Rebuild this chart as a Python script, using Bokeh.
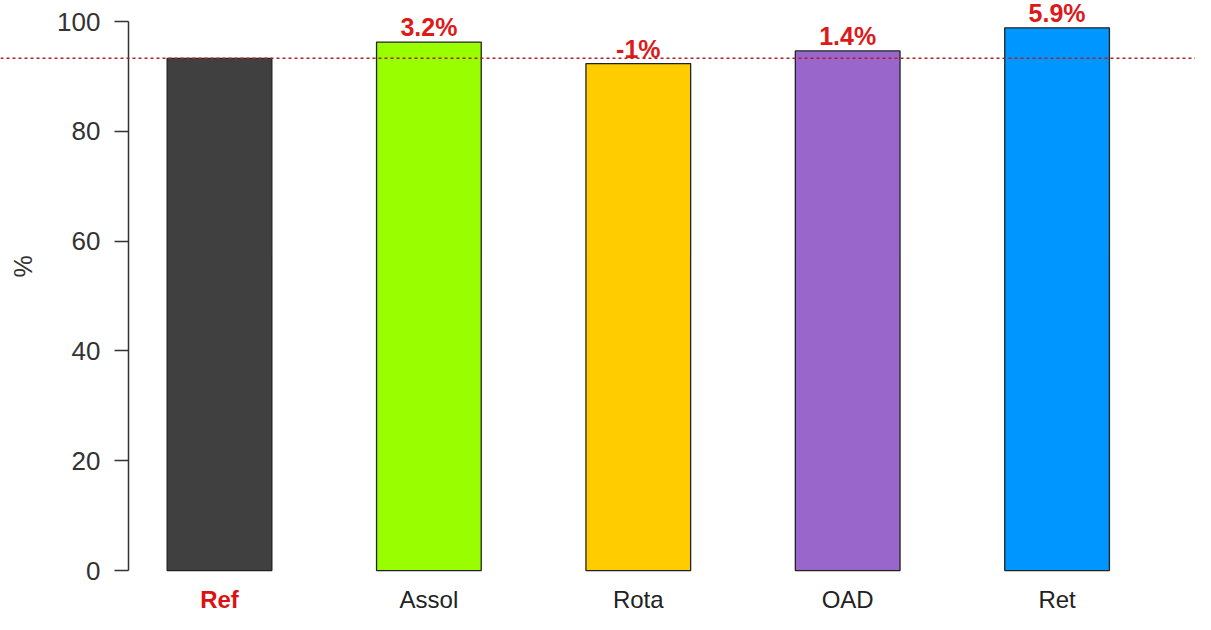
import math
from bokeh.plotting import figure
from bokeh.models import (ColumnDataSource, Range1d, LinearAxis, FixedTicker, Span)
from bokeh.core.properties import value
from bokeh.embed import file_html
from bokeh.resources import INLINE

categories = ["Ref", "Assol", "Rota", "OAD", "Ret"]
values = [93.3, 96.25, 92.35, 94.65, 98.85]
changes = ["", "3.2%", "-1%", "1.4%", "5.9%"]
colors = ["#404040", "#99FF00", "#FFCC00", "#9966CC", "#0096FF"]
y_ticks = [0, 20, 40, 60, 80, 100]
y_title = "%"

FONT = "Liberation Sans"
idx = list(range(len(categories)))

src = ColumnDataSource(dict(
    x=idx, top=values, cat=categories, chg=changes, color=colors,
    lab_color=["#DD1111"] + ["#222222"] * 4,
    lab_style=["bold"] + ["normal"] * 4,
    lab_y=[-5.3] * len(idx),
))

p = figure(width=1195, height=614, output_backend="svg", toolbar_location=None,
           x_axis_type=None, y_axis_type=None,
           x_range=Range1d(-1.0458, 4.661), y_range=Range1d(-8.01, 103.83),
           min_border=0, outline_line_color=None)
p.xgrid.visible = False
p.ygrid.visible = False
p.background_fill_color = "white"

p.vbar(x="x", top="top", bottom=0, width=0.5, source=src,
       fill_color="color", line_color="#222222", line_width=1.3)

ref_line = Span(location=values[0], dimension="width", line_color="#B22025",
                line_dash="3 3", line_width=1.5)
p.add_layout(ref_line)

p.text(x="x", y="top", text="chg", source=src, text_align="center",
       text_baseline="bottom", y_offset=-1, text_color="#DD1A1A",
       text_font=value(FONT), text_font_size="25px", text_font_style="bold")

p.text(x="x", y="lab_y", text="cat", source=src, text_align="center",
       text_baseline="middle", text_color="lab_color",
       text_font=value(FONT), text_font_size="24px", text_font_style="lab_style")

# y-axis title, rotated, placed left of the tick labels
p.text(x=[-0.94], y=[55.4], text=[y_title], angle=math.pi / 2,
       text_align="center", text_baseline="middle", text_color="#333333",
       text_font=value(FONT), text_font_size="25px")

yaxis = LinearAxis(fixed_location=-0.4346, bounds=(0, 100),
                   ticker=FixedTicker(ticks=y_ticks))
yaxis.major_tick_out = 14
yaxis.major_tick_in = 0
yaxis.minor_tick_line_color = None
yaxis.major_label_standoff = 14
yaxis.major_label_text_font = FONT
yaxis.major_label_text_font_size = "26px"
yaxis.major_label_text_color = "#333333"
yaxis.axis_line_color = "#333333"
yaxis.axis_line_width = 1.5
yaxis.major_tick_line_color = "#333333"
yaxis.major_tick_line_width = 1.5
p.add_layout(yaxis, "left")

open("out.html", "w").write(file_html(p, INLINE))
